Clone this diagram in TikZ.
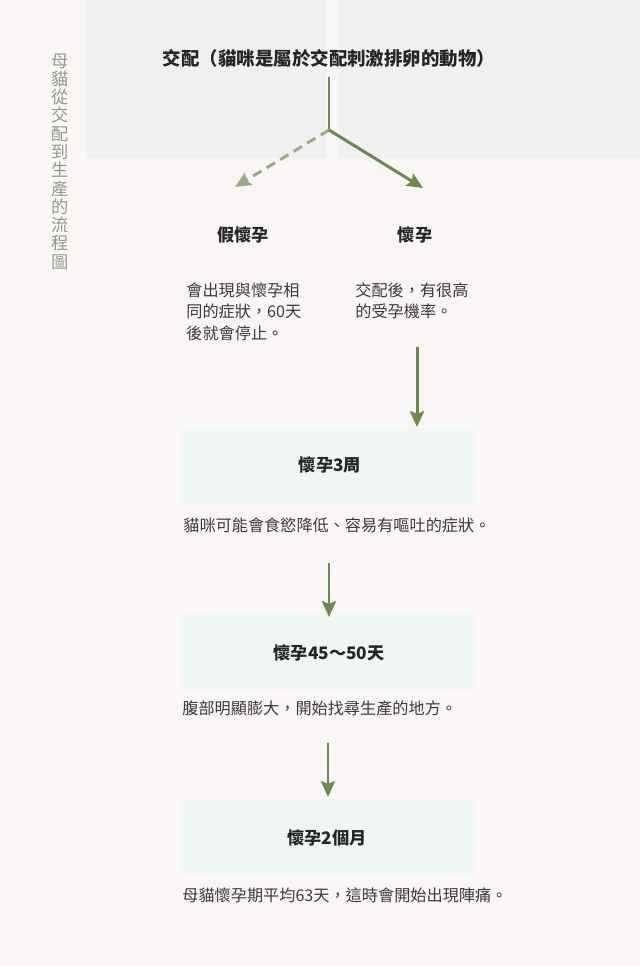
\documentclass[tikz,border=0pt]{standalone}
\usepackage{fontspec}
\setmainfont{Noto Sans CJK TC}
\usepackage{xcolor}
\usetikzlibrary{arrows.meta}
\definecolor{paper}{HTML}{FBF6F6}
\definecolor{haze}{HTML}{F1F0F0}
\definecolor{mint}{HTML}{F0F7F3}
\definecolor{leaf}{HTML}{6C8A4E}
\definecolor{sage}{HTML}{8F9C88}
\definecolor{ink}{HTML}{3A3A3A}

\begin{document}
\begin{tikzpicture}[x=0.02cm, y=-0.02cm,
  every node/.style={inner sep=0pt, text=ink},
  headline/.style={font=\fontsize{9.8}{11}\selectfont\bfseries, text=black!85},
  bodytext/.style={font=\fontsize{9.2}{12.2}\selectfont, align=left, anchor=west},
  flow/.style={draw=leaf, line width=1.7pt, -{Stealth[length=9pt, width=8pt, inset=1.5pt]}},
  maybe/.style={flow, draw=leaf!70, dash pattern=on 5.5pt off 3.5pt}]
  \fill[paper] (0,0) rectangle (640,966);
  \fill[haze] (86,0) rectangle (327,158);
  \fill[haze] (339,0) rectangle (640,158);
  \fill[mint] (180,428) rectangle (475,503);
  \fill[mint] (180,613) rectangle (475,690);
  \fill[mint] (180,800) rectangle (475,875);
  \node[font=\fontsize{9.8}{10.4}\selectfont, text=sage, align=center] (sidetitle) at (60,161.5)
    {母\\貓\\從\\交\\配\\到\\生\\產\\的\\流\\程\\圖};
  \node[headline, font=\fontsize{10.5}{12}\selectfont\bfseries] (mating) at (329,58) {交配（貓咪是屬於交配刺激排卵的動物）};
  \node[headline] (falsepreg) at (243,235) {假懷孕};
  \node[headline] (truepreg) at (415,235) {懷孕};
  \node[bodytext] (falsetext) at (186,311.5) {會出現與懷孕相\\同的症狀，60天\\後就會停止。};
  \node[bodytext] (truetext) at (355,300.75) {交配後，有很高\\的受孕機率。};
  \node[headline] (week3) at (330,465) {懷孕3周};
  \node[bodytext] (week3text) at (183,525) {貓咪可能會食慾降低、容易有嘔吐的症狀。};
  \node[headline] (day45) at (329,653) {懷孕45～50天};
  \node[bodytext] (day45text) at (182,708) {腹部明顯膨大，開始找尋生產的地方。};
  \node[headline] (month2) at (327,838) {懷孕2個月};
  \node[bodytext] (month2text) at (182,895) {母貓懷孕期平均63天，這時會開始出現陣痛。};
  \coordinate (stemtop) at (329,77);
  \coordinate (fork) at (329,130);
  \coordinate (falsetip) at (235,187);
  \coordinate (truetip) at (423,188);
  \coordinate (pregfrom) at (417,347);
  \coordinate (pregto) at (417,427);
  \coordinate (week3from) at (329,563);
  \coordinate (week3to) at (329,617);
  \coordinate (day45from) at (328,743);
  \coordinate (day45to) at (328,797);
  \draw[leaf, line width=1.7pt] (stemtop) -- (fork);
  \draw[maybe] (fork) -- (falsetip);
  \draw[flow] (fork) -- (truetip);
  \draw[flow] (pregfrom) -- (pregto);
  \draw[flow] (week3from) -- (week3to);
  \draw[flow] (day45from) -- (day45to);
\end{tikzpicture}
\end{document}
